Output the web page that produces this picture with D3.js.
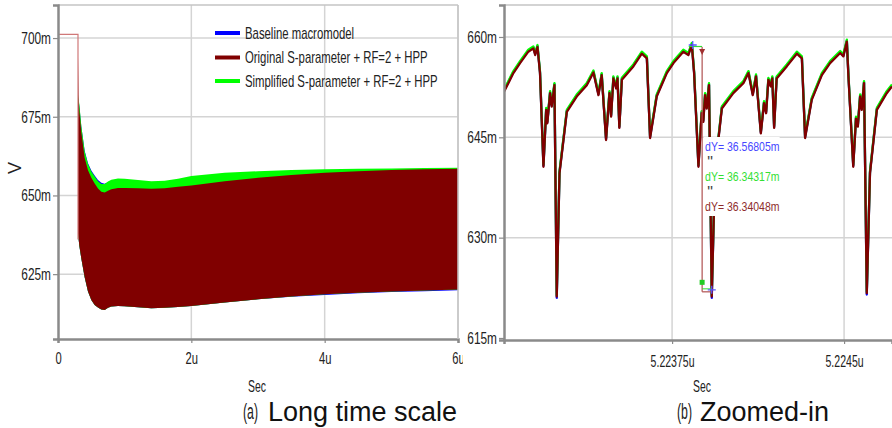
<!DOCTYPE html>
<html>
<head>
<meta charset="utf-8">
<script src="https://cdn.jsdelivr.net/npm/d3@7"></script>
<style>
  body { margin: 0; background: #fff; }
  svg { display: block; }
  .nar { font-family: "Liberation Sans", Arial, sans-serif; fill: #222; }
  .cap { font-family: "Liberation Sans", Arial, sans-serif; fill: #111; }
</style>
</head>
<body>
<svg id="chart" width="892" height="428"></svg>
<script>
// (a) long time scale: envelope of the ringing, time in us, volts in mV
var longT = [0.30, 0.31, 0.32, 0.35, 0.40, 0.45, 0.50, 0.55, 0.60, 0.65, 0.70, 0.75, 0.80, 0.90, 1.0, 1.2, 1.4, 1.6, 1.8, 2.0, 2.5, 3.0, 3.5, 4.0, 4.5, 5.0, 5.5, 6.0];
var redTop = [694, 680, 677, 670, 662, 658, 655.6, 653.8, 652.2, 651.2, 650.9, 651.5, 652.0, 652.4, 652.4, 652.3, 652.1, 652.3, 652.8, 653.2, 654.5, 655.6, 656.5, 657.2, 657.7, 658.1, 658.3, 658.5];
var redBottom = [638, 636, 634, 630, 624, 619.5, 616.8, 615.2, 614.4, 613.8, 613.6, 614.3, 614.7, 614.9, 614.8, 614.5, 614.2, 614.3, 614.6, 614.9, 616.0, 617.0, 617.9, 618.6, 619.1, 619.5, 619.8, 620.1];
var greenTop = [682, 680.5, 679, 672, 664, 660, 657.6, 656, 654.5, 653.6, 653.6, 654.4, 655.0, 655.4, 655.3, 654.9, 654.5, 654.7, 655.3, 656.2, 657.2, 657.7, 658.1, 658.3, 658.5, 658.6, 658.7, 658.8];
var blueTop = [681, 680, 678.5, 671.8, 664.2, 660.2, 657.9, 656.3, 654.9, 654.0, 653.7, 654.2, 654.7, 655.0, 654.9, 654.5, 654.1, 654.3, 654.9, 655.8, 656.8, 657.3, 657.8, 658.0, 658.2, 658.3, 658.4, 658.5];
var blueBottom = [638, 636, 634, 630, 624, 619.5, 616.8, 615.2, 614.4, 613.8, 613.6, 614.3, 614.7, 614.9, 614.8, 614.5, 614.2, 614.3, 614.6, 614.9, 616.0, 617.0, 617.8, 618.4, 618.9, 619.3, 619.6, 619.9];
var startT = [0, 0.30, 0.30];
var startV = [701.2, 701.2, 636];

var longXTicks = [0, 2, 4, 6];
var longXLabels = ["0", "2u", "4u", "6u"];
var longYTicks = [625, 650, 675, 700];
var longYLabels = ["625m", "650m", "675m", "700m"];

var legendNames = ["Baseline macromodel", "Original S-parameter + RF=2 + HPP", "Simplified S-parameter + RF=2 + HPP"];
var seriesColors = ["#0000ff", "#800000", "#00ff00"];

// (b) zoomed in
var zoomT = [5.223017, 5.223058, 5.223087, 5.223123, 5.223145, 5.223153, 5.223163, 5.223174, 5.223189, 5.223201,
  5.223206, 5.223218, 5.223225, 5.223237, 5.223247, 5.223259, 5.223291, 5.223334, 5.223378, 5.223407,
  5.223429, 5.223443, 5.223462, 5.223477, 5.223484, 5.223494, 5.223506, 5.223512, 5.223520, 5.223531,
  5.223581, 5.223618, 5.223640, 5.223654, 5.223683, 5.223727, 5.223756, 5.223799, 5.223821, 5.223836,
  5.223846, 5.223865, 5.223879, 5.223886, 5.223894, 5.223901, 5.223911, 5.223923, 5.223937, 5.223967,
  5.224017, 5.224061, 5.224083, 5.224102, 5.224116, 5.224137, 5.224151, 5.224160, 5.224170, 5.224180,
  5.224187, 5.224195, 5.224206, 5.224250, 5.224294, 5.224316, 5.224330, 5.224359, 5.224403, 5.224439,
  5.224483, 5.224497, 5.224512, 5.224519, 5.224540, 5.224552, 5.224560, 5.224570, 5.224577, 5.224587,
  5.224599, 5.224613, 5.224643, 5.224686, 5.224709];
var zoomRed = [651.8, 654.6, 656.1, 657.8, 658.3, 657.3, 658.5, 654.6, 640.6, 649.1,
  647.1, 651.6, 649.6, 652.8, 621.2, 639.6, 648.8, 651.1, 652.8, 654.7,
  651.3, 654.3, 644.6, 651.6, 648.1, 653.8, 652.3, 653.8, 646.4, 653.6,
  655.6, 657.5, 656.8, 644.9, 651.1, 654.6, 656.1, 657.8, 657.3, 658.8,
  654.6, 640.6, 648.6, 647.3, 651.3, 649.3, 652.8, 621.2, 640.1, 649.3,
  651.6, 653.1, 654.6, 651.3, 654.1, 645.6, 650.1, 648.6, 653.6, 652.6,
  653.8, 646.4, 653.8, 655.6, 657.5, 656.8, 644.9, 650.6, 654.3, 656.1,
  657.6, 657.1, 659.3, 654.1, 640.6, 647.8, 646.6, 651.1, 649.1, 653.1,
  621.7, 639.6, 649.1, 651.6, 652.6];
var zoomGreen = [652.1, 654.9, 656.4, 658.1, 658.6, 657.6, 658.8, 654.9, 640.9, 649.4,
  647.4, 651.9, 649.9, 653.1, 621.4, 639.9, 649.1, 651.4, 653.1, 655.0,
  651.6, 654.6, 644.9, 651.9, 648.4, 654.1, 652.6, 654.1, 646.7, 653.9,
  655.9, 657.8, 657.1, 645.2, 651.4, 654.9, 656.4, 658.1, 657.6, 659.1,
  654.9, 640.9, 648.9, 647.6, 651.6, 649.6, 653.1, 621.4, 640.4, 649.6,
  651.9, 653.4, 654.9, 651.6, 654.4, 645.9, 650.4, 648.9, 653.9, 652.9,
  654.1, 646.7, 654.1, 655.9, 657.8, 657.1, 645.2, 650.9, 654.6, 656.4,
  657.9, 657.4, 659.6, 654.4, 640.9, 648.1, 646.9, 651.4, 649.4, 653.4,
  621.9, 639.9, 649.4, 651.9, 652.9];
var zoomBlue = [651.95, 654.75, 656.25, 657.95, 658.45, 657.45, 658.65, 654.75, 640.75, 649.25,
  647.25, 651.75, 649.75, 652.95, 621.0, 639.75, 648.95, 651.25, 652.95, 654.85,
  651.45, 654.45, 644.75, 651.75, 648.25, 653.95, 652.45, 653.95, 646.55, 653.75,
  655.75, 657.65, 656.95, 645.05, 651.25, 654.75, 656.25, 657.95, 657.45, 658.95,
  654.75, 640.75, 648.75, 647.45, 651.45, 649.45, 652.95, 621.0, 640.25, 649.45,
  651.75, 653.25, 654.75, 651.45, 654.25, 645.75, 650.25, 648.75, 653.75, 652.75,
  653.95, 646.55, 653.95, 655.75, 657.65, 656.95, 645.05, 650.75, 654.45, 656.25,
  657.75, 657.25, 659.45, 654.25, 640.75, 647.95, 646.75, 651.25, 649.25, 653.25,
  621.5, 639.75, 649.25, 651.75, 652.75];

var zoomXTicks = [5.22375, 5.2245];
var zoomXLabels = ["5.22375u", "5.2245u"];
var zoomYTicks = [615, 630, 645, 660];
var zoomYLabels = ["615m", "630m", "645m", "660m"];

// measurement cursors
var cursorT = [5.22384, 5.223881, 5.223923];
var cursorV = [658.8, 622.2];
var dyValues = ["36.56805", "36.34317", "36.34048"];
var dyColors = ["#4646ff", "#33e033", "#8e2c2c"];

var svg = d3.select("#chart");
var gridColor = "#d4d4d4";
var axisColor = "#8a8a8a";

function idx(arr) {
  return arr.map(function (d, i) { return i; });
}

// the scope font is a tall narrow face, squeeze the plain sans to get there
function squeeze(sel, f) {
  sel.each(function () {
    var t = d3.select(this);
    var x = +t.attr("x") || 0;
    t.attr("x", x / f).attr("transform", "scale(" + f + ",1)");
  });
}

function styleAxis(g, size, f) {
  g.select(".domain").attr("stroke", axisColor).attr("stroke-width", 2.5);
  g.selectAll(".tick line").attr("stroke", axisColor).attr("stroke-width", 1.2);
  g.selectAll(".tick text").attr("class", "nar").attr("font-size", size).attr("fill", "#222")
    .call(squeeze, f);
}

// ---------- panel (a) ----------
var xL = d3.scaleLinear().domain([0, 6]).range([58, 458]);
var yL = d3.scaleLinear().domain([604.4, 710.5]).range([339, 5]);

var left = svg.append("g");
left.append("defs").append("clipPath").attr("id", "clipL")
  .append("rect").attr("x", 58).attr("y", 5).attr("width", 400).attr("height", 334);

left.append("g").selectAll("line").data(longYTicks).join("line")
  .attr("x1", 58).attr("x2", 458)
  .attr("y1", function (d) { return yL(d); }).attr("y2", function (d) { return yL(d); })
  .attr("stroke", gridColor).attr("stroke-width", 1.5);
left.append("g").selectAll("line").data(longXTicks.slice(1)).join("line")
  .attr("x1", function (d) { return xL(d); }).attr("x2", function (d) { return xL(d); })
  .attr("y1", 5).attr("y2", 339)
  .attr("stroke", gridColor).attr("stroke-width", 1.5);
left.append("line").attr("x1", 58).attr("x2", 458).attr("y1", 5).attr("y2", 5)
  .attr("stroke", "#c4c4c4").attr("stroke-width", 1.5);

var plotL = left.append("g").attr("clip-path", "url(#clipL)");
var ai = idx(longT);
plotL.append("path").datum(ai)
  .attr("fill", seriesColors[0])
  .attr("d", d3.area()
    .x(function (i) { return xL(longT[i]); })
    .y0(function (i) { return yL(blueBottom[i]); })
    .y1(function (i) { return yL(blueTop[i]); }));
plotL.append("path").datum(ai)
  .attr("fill", seriesColors[2])
  .attr("d", d3.area()
    .x(function (i) { return xL(longT[i]); })
    .y0(function (i) { return yL(redBottom[i]); })
    .y1(function (i) { return yL(greenTop[i]); }));
plotL.append("path").datum(ai)
  .attr("fill", seriesColors[1])
  .attr("d", d3.area()
    .x(function (i) { return xL(longT[i]); })
    .y0(function (i) { return yL(redBottom[i]); })
    .y1(function (i) { return yL(redTop[i]); }));
plotL.append("path").datum(idx(startT))
  .attr("fill", "none").attr("stroke", "#d07878").attr("stroke-width", 1.2)
  .attr("d", d3.line()
    .x(function (i) { return xL(startT[i]); })
    .y(function (i) { return yL(startV[i]); }));

left.append("g").attr("transform", "translate(0,339)")
  .call(d3.axisBottom(xL).tickValues(longXTicks).tickSize(4).tickPadding(9)
    .tickFormat(function (d, i) { return longXLabels[i]; }))
  .call(styleAxis, 16.5, 0.68);
left.append("g").attr("transform", "translate(58,0)")
  .call(d3.axisLeft(yL).tickValues(longYTicks).tickSize(5).tickPadding(2)
    .tickFormat(function (d, i) { return longYLabels[i]; }))
  .call(styleAxis, 16.5, 0.72);
left.append("line").attr("x1", 458).attr("x2", 458).attr("y1", 5).attr("y2", 339)
  .attr("stroke", "#c4c4c4").attr("stroke-width", 1.5);

// legend
var leg = left.append("g").selectAll("g").data(legendNames).join("g")
  .attr("transform", function (d, i) { return "translate(215," + [33, 57.5, 81][i] + ")"; });
leg.append("line").attr("x1", 0).attr("x2", 25)
  .attr("stroke", function (d, i) { return seriesColors[i]; }).attr("stroke-width", 4);
leg.append("text").attr("class", "nar").attr("x", 30).attr("dy", "0.35em")
  .attr("font-size", 16).text(function (d) { return d; })
  .call(squeeze, 0.71);

left.append("text").attr("class", "nar").attr("font-size", 18)
  .attr("transform", "translate(21,168) rotate(-90)").attr("text-anchor", "middle").text("V");
left.append("text").attr("class", "nar").attr("font-size", 16)
  .attr("x", 257).attr("y", 392).attr("text-anchor", "middle").text("Sec")
  .call(squeeze, 0.65);

// ---------- panel (b) ----------
var right = svg.append("g");
right.append("rect").attr("x", 463).attr("y", 0).attr("width", 429).attr("height", 375).attr("fill", "#fff");

var xR = d3.scaleLinear().domain([5.223017, 5.224709]).range([504, 892]);
var yR = d3.scaleLinear().domain([614.7, 664.78]).range([340, 5]);

right.append("defs").append("clipPath").attr("id", "clipR")
  .append("rect").attr("x", 504).attr("y", 5).attr("width", 388).attr("height", 335);

right.append("g").selectAll("line").data(zoomYTicks.slice(1)).join("line")
  .attr("x1", 504).attr("x2", 892)
  .attr("y1", function (d) { return yR(d); }).attr("y2", function (d) { return yR(d); })
  .attr("stroke", gridColor).attr("stroke-width", 1.5);
right.append("g").selectAll("line").data(zoomXTicks).join("line")
  .attr("x1", function (d) { return xR(d); }).attr("x2", function (d) { return xR(d); })
  .attr("y1", 5).attr("y2", 340)
  .attr("stroke", gridColor).attr("stroke-width", 1.5);
right.append("line").attr("x1", 504).attr("x2", 892).attr("y1", 5).attr("y2", 5)
  .attr("stroke", "#c4c4c4").attr("stroke-width", 1.5);

var plotR = right.append("g").attr("clip-path", "url(#clipR)");
var zi = idx(zoomT);
[zoomBlue, zoomGreen, zoomRed].forEach(function (vals, k) {
  plotR.append("path").datum(zi)
    .attr("fill", "none")
    .attr("stroke", [seriesColors[0], seriesColors[2], seriesColors[1]][k])
    .attr("stroke-width", 2.3)
    .attr("stroke-linejoin", "round")
    .attr("d", d3.line()
      .x(function (i) { return xR(zoomT[i]); })
      .y(function (i) { return yR(vals[i]); }));
});

// cursor markers
var cx0 = xR(cursorT[0]), cx1 = xR(cursorT[1]), cx2 = xR(cursorT[2]);
var cyTop = yR(cursorV[0]), cyBot = yR(cursorV[1]);
plotR.append("line").attr("x1", cx0 - 4).attr("x2", cx1).attr("y1", cyTop + 1.5).attr("y2", cyTop + 1.5)
  .attr("stroke", "#33dd33").attr("stroke-width", 1.2);
plotR.append("line").attr("x1", cx1).attr("x2", cx1).attr("y1", cyTop + 2).attr("y2", cyBot + 2)
  .attr("stroke", "#b05050").attr("stroke-width", 1.2);
plotR.append("line").attr("x1", cx1).attr("x2", cx2).attr("y1", cyBot + 2).attr("y2", cyBot + 2)
  .attr("stroke", "#b05050").attr("stroke-width", 1.2);
plotR.append("line").attr("x1", cx1).attr("x2", cx2).attr("y1", cyBot - 1).attr("y2", cyBot - 1)
  .attr("stroke", "#33dd33").attr("stroke-width", 1);
plotR.append("path").attr("d", "M" + (cx1 - 3) + "," + (cyTop + 4) + "h6l-3,6z").attr("fill", "#a03030");
plotR.append("rect").attr("x", cx1 - 2.5).attr("y", cyBot - 10).attr("width", 5).attr("height", 5).attr("fill", "#22cc22");
[[cx0, cyTop], [cx2, cyBot]].forEach(function (p) {
  plotR.append("path").attr("d", "M" + (p[0] - 4) + "," + p[1] + "h8M" + p[0] + "," + (p[1] - 4) + "v8")
    .attr("stroke", "#5555ff").attr("stroke-width", 1.3);
});

// dY readout
right.append("rect").attr("x", cx1 + 1.5).attr("y", 137).attr("width", 76).attr("height", 79).attr("fill", "#fff");
right.append("g").selectAll("text").data(dyValues).join("text")
  .attr("class", "nar").attr("font-size", 12.5)
  .attr("x", cx1 + 3).attr("y", function (d, i) { return 151 + i * 30; })
  .style("fill", function (d, i) { return dyColors[i]; })
  .text(function (d) { return "dY= " + d + "m"; })
  .call(squeeze, 0.84);
right.append("g").selectAll("text").data([0, 1]).join("text")
  .attr("class", "nar").attr("font-size", 16)
  .attr("x", cx1 + 5).attr("y", function (d) { return 167.5 + d * 30; })
  .style("fill", "#444").text("\"");

right.append("g").attr("transform", "translate(0,340)")
  .call(d3.axisBottom(xR).tickValues(zoomXTicks).tickSize(4).tickPadding(12)
    .tickFormat(function (d, i) { return zoomXLabels[i]; }))
  .call(styleAxis, 16, 0.66);
right.append("g").attr("transform", "translate(504,0)")
  .call(d3.axisLeft(yR).tickValues(zoomYTicks).tickSize(5).tickPadding(2)
    .tickFormat(function (d, i) { return zoomYLabels[i]; }))
  .call(styleAxis, 16.5, 0.72);
right.append("text").attr("class", "nar").attr("font-size", 16)
  .attr("x", 702).attr("y", 392).attr("text-anchor", "middle").text("Sec")
  .call(squeeze, 0.65);

// captions
svg.append("text").attr("class", "nar").attr("font-size", 22).attr("x", 243).attr("y", 419).text("(a)")
  .call(squeeze, 0.56);
svg.append("text").attr("class", "cap").attr("font-size", 27).attr("x", 268).attr("y", 421).text("Long time scale");
svg.append("text").attr("class", "nar").attr("font-size", 22).attr("x", 677).attr("y", 419).text("(b)")
  .call(squeeze, 0.56);
svg.append("text").attr("class", "cap").attr("font-size", 27).attr("x", 700).attr("y", 421).text("Zoomed-in");
</script>
</body>
</html>
